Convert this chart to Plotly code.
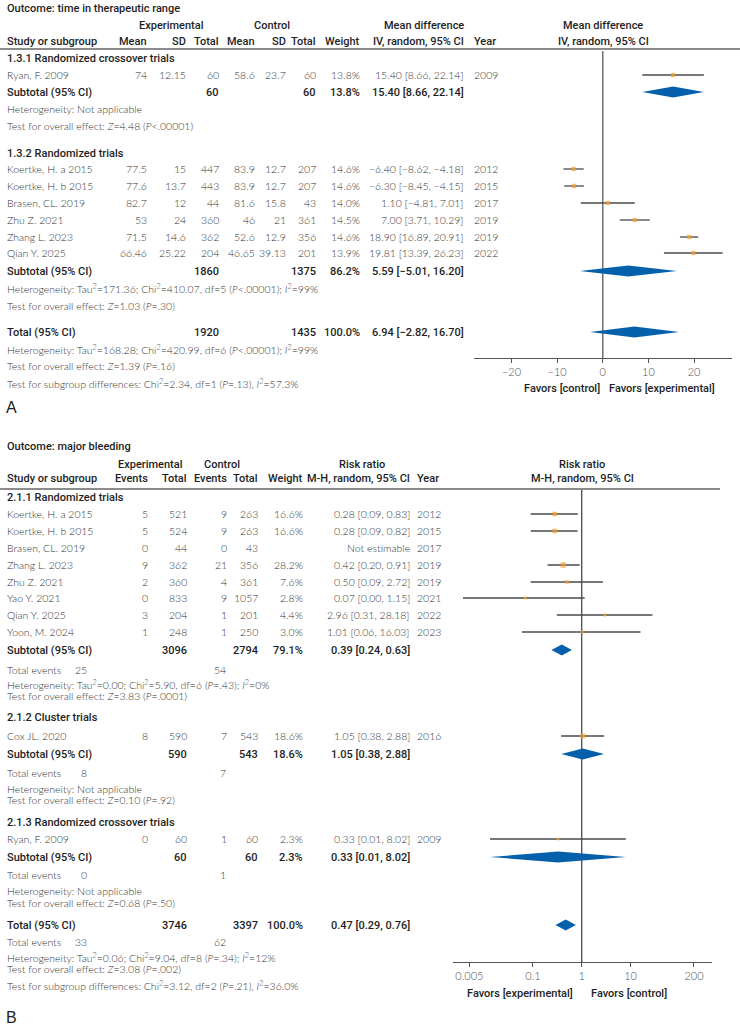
import plotly.graph_objects as go

W, H = 740, 1029

# ================= Panel A data: time in therapeutic range =================
A_study = ["Ryan, F. 2009", "Koertke, H. a 2015", "Koertke, H. b 2015", "Brasen, CL. 2019",
           "Zhu Z. 2021", "Zhang L. 2023", "Qian Y. 2025"]
A_exp_mean = [74, 77.5, 77.6, 82.7, 53, 71.5, 66.46]
A_exp_sd = [12.15, 15, 13.7, 12, 24, 14.6, 25.22]
A_exp_n = [60, 447, 443, 44, 360, 362, 204]
A_ctl_mean = [58.6, 83.9, 83.9, 81.6, 46, 52.6, 46.65]
A_ctl_sd = [23.7, 12.7, 12.7, 15.8, 21, 12.9, 39.13]
A_ctl_n = [60, 207, 207, 43, 361, 356, 201]
A_weight = [13.8, 14.6, 14.6, 14.0, 14.5, 14.6, 13.9]
A_md = [15.40, -6.40, -6.30, 1.10, 7.00, 18.90, 19.81]
A_lo = [8.66, -8.62, -8.45, -4.81, 3.71, 16.89, 13.39]
A_hi = [22.14, -4.18, -4.15, 7.01, 10.29, 20.91, 26.23]
A_year = [2009, 2012, 2015, 2017, 2019, 2019, 2022]

A_sub_name = ["1.3.1 Randomized crossover trials", "1.3.2 Randomized trials"]
A_sub_exp_n = [60, 1860]
A_sub_ctl_n = [60, 1375]
A_sub_weight = [13.8, 86.2]
A_sub_md = [15.40, 5.59]
A_sub_lo = [8.66, -5.01]
A_sub_hi = [22.14, 16.20]
A_sub_het = ["Heterogeneity: Not applicable",
             "Heterogeneity: Tau<sup>2</sup>=171.36; Chi<sup>2</sup>=410.07, df=5 (<i>P</i>&lt;.00001); <i>I</i><sup>2</sup>=99%"]
A_sub_test = ["Test for overall effect: <i>Z</i>=4.48 (<i>P</i>&lt;.00001)",
              "Test for overall effect: <i>Z</i>=1.03 (<i>P</i>=.30)"]

A_tot_exp_n = 1920
A_tot_ctl_n = 1435
A_tot_weight = 100.0
A_tot_md, A_tot_lo, A_tot_hi = 6.94, -2.82, 16.70
A_tot_het = "Heterogeneity: Tau<sup>2</sup>=168.28; Chi<sup>2</sup>=420.99, df=6 (<i>P</i>&lt;.00001); <i>I</i><sup>2</sup>=99%"
A_tot_test = "Test for overall effect: <i>Z</i>=1.39 (<i>P</i>=.16)"
A_subgroup_test = "Test for subgroup differences: Chi<sup>2</sup>=2.34, df=1 (<i>P</i>=.13), <i>I</i><sup>2</sup>=57.3%"
A_ticks = [-20, -10, 0, 10, 20]

# ================= Panel B data: major bleeding =================
B_study = ["Koertke, H. a 2015", "Koertke, H. b 2015", "Brasen, CL. 2019", "Zhang L. 2023",
           "Zhu Z. 2021", "Yao Y. 2021", "Qian Y. 2025", "Yoon, M. 2024", "Cox JL. 2020",
           "Ryan, F. 2009"]
B_exp_ev = [5, 5, 0, 9, 2, 0, 3, 1, 8, 0]
B_exp_n = [521, 524, 44, 362, 360, 833, 204, 248, 590, 60]
B_ctl_ev = [9, 9, 0, 21, 4, 9, 1, 1, 7, 1]
B_ctl_n = [263, 263, 43, 356, 361, 1057, 201, 250, 543, 60]
B_weight = [16.6, 16.6, None, 28.2, 7.6, 2.8, 4.4, 3.0, 18.6, 2.3]
B_rr = [0.28, 0.28, None, 0.42, 0.50, 0.07, 2.96, 1.01, 1.05, 0.33]
B_lo = [0.09, 0.09, None, 0.20, 0.09, 0.0037, 0.31, 0.06, 0.38, 0.0132]
B_hi = [0.83, 0.82, None, 0.91, 2.72, 1.15, 28.18, 16.03, 2.88, 8.02]
B_year = [2012, 2015, 2017, 2019, 2019, 2021, 2022, 2023, 2016, 2009]

B_sub_name = ["2.1.1 Randomized trials", "2.1.2 Cluster trials", "2.1.3 Randomized crossover trials"]
B_sub_exp_n = [3096, 590, 60]
B_sub_ctl_n = [2794, 543, 60]
B_sub_weight = [79.1, 18.6, 2.3]
B_sub_rr = [0.39, 1.05, 0.33]
B_sub_lo = [0.24, 0.38, 0.0132]
B_sub_hi = [0.63, 2.88, 8.02]
B_sub_exp_ev = [25, 8, 0]
B_sub_ctl_ev = [54, 7, 1]
B_sub_het = ["Heterogeneity: Tau<sup>2</sup>=0.00; Chi<sup>2</sup>=5.90, df=6 (<i>P</i>=.43); <i>I</i><sup>2</sup>=0%",
             "Heterogeneity: Not applicable", "Heterogeneity: Not applicable"]
B_sub_test = ["Test for overall effect: <i>Z</i>=3.83 (<i>P</i>=.0001)",
              "Test for overall effect: <i>Z</i>=0.10 (<i>P</i>=.92)",
              "Test for overall effect: <i>Z</i>=0.68 (<i>P</i>=.50)"]

B_tot_exp_n = 3746
B_tot_ctl_n = 3397
B_tot_weight = 100.0
B_tot_rr, B_tot_lo, B_tot_hi = 0.47, 0.29, 0.76
B_tot_exp_ev = 33
B_tot_ctl_ev = 62
B_tot_het = "Heterogeneity: Tau<sup>2</sup>=0.06; Chi<sup>2</sup>=9.04, df=8 (<i>P</i>=.34); <i>I</i><sup>2</sup>=12%"
B_tot_test = "Test for overall effect: <i>Z</i>=3.08 (<i>P</i>=.002)"
B_subgroup_test = "Test for subgroup differences: Chi<sup>2</sup>=3.12, df=2 (<i>P</i>=.21), <i>I</i><sup>2</sup>=36.0%"
B_ticks = [0.005, 0.1, 1, 10, 200]
B_ticktext = ["0.005", "0.1", "1", "10", "200"]

# ================= styles / layout (pixels) =================
ORANGE = "#F5A331"
BLUE = "#0560AC"
LINEC = "#4a4a4a"
LIGHT = dict(family="Lato, sans-serif", size=10.5, color="#333333", weight=300)
BOLD = dict(family="Roboto, sans-serif", size=11, color="#1e1e1e", weight=500)
TICKF = dict(family="Lato, sans-serif", size=11, color="#555555", weight=300)

SPLIT = 425  # pixel row that separates the two panels

ann = []


def txt(x, y, s, anchor="left", st=LIGHT):
    ann.append(dict(x=x / W, y=1 - y / H, xref="paper", yref="paper", text=s,
                    showarrow=False, xanchor=anchor, yanchor="middle", font=st,
                    borderpad=0, borderwidth=0))


def num(v):
    return str(v).replace("-", "\u2212")


def ci(m, lo, hi):
    return f"{m:.2f} [{lo:.2f}, {hi:.2f}]".replace("-", "\u2212")


def msize(w):
    return 1.6 + 0.72 * w ** 0.5


fig = go.Figure()
shapes = []

# ---------------- Panel A ----------------
A_group_y = [58, 153]
A_study_y = [75, 169, 186, 203, 220, 237, 253]
A_sub_y = [92, 271]
A_het_y = [109, 288]
A_test_y = [126, 306]
A_tot_y = 332
A_axis_y = 358
Acol = dict(em=147, esd=186, en=219, cm=255, csd=286, cn=316, w=360, ci=464, yr=474)

txt(7, 8, "Outcome: time in therapeutic range", st=BOLD)
txt(171, 25, "Experimental", "center", BOLD)
txt(272, 25, "Control", "center", BOLD)
txt(Acol["ci"], 25, "Mean difference", "right", BOLD)
txt(603, 25, "Mean difference", "center", BOLD)
txt(7, 41, "Study or subgroup", st=BOLD)
for k, lab in [("em", "Mean"), ("esd", "SD"), ("en", "Total"), ("cm", "Mean"),
               ("csd", "SD"), ("cn", "Total"), ("w", "Weight")]:
    txt(Acol[k], 41, lab, "right", BOLD)
txt(Acol["ci"], 41, "IV, random, 95% CI", "right", BOLD)
txt(Acol["yr"], 41, "Year", "left", BOLD)
txt(603, 41, "IV, random, 95% CI", "center", BOLD)
shapes.append(dict(type="line", xref="paper", yref="paper", x0=0, x1=1,
                   y0=1 - 49 / H, y1=1 - 49 / H, line=dict(color="#666", width=1.5)))

for g in range(2):
    txt(7, A_group_y[g], A_sub_name[g], st=BOLD)
for i in range(len(A_study)):
    y = A_study_y[i]
    txt(7, y, A_study[i])
    txt(Acol["em"], y, num(A_exp_mean[i]), "right")
    txt(Acol["esd"], y, num(A_exp_sd[i]), "right")
    txt(Acol["en"], y, num(A_exp_n[i]), "right")
    txt(Acol["cm"], y, num(A_ctl_mean[i]), "right")
    txt(Acol["csd"], y, num(A_ctl_sd[i]), "right")
    txt(Acol["cn"], y, num(A_ctl_n[i]), "right")
    txt(Acol["w"], y, f"{A_weight[i]:.1f}%", "right")
    txt(Acol["ci"], y, ci(A_md[i], A_lo[i], A_hi[i]), "right")
    txt(Acol["yr"], y, str(A_year[i]))
for g in range(2):
    y = A_sub_y[g]
    txt(7, y, "Subtotal (95% CI)", st=BOLD)
    txt(Acol["en"], y, num(A_sub_exp_n[g]), "right", BOLD)
    txt(Acol["cn"], y, num(A_sub_ctl_n[g]), "right", BOLD)
    txt(Acol["w"], y, f"{A_sub_weight[g]:.1f}%", "right", BOLD)
    txt(Acol["ci"], y, ci(A_sub_md[g], A_sub_lo[g], A_sub_hi[g]), "right", BOLD)
    txt(7, A_het_y[g], A_sub_het[g])
    txt(7, A_test_y[g], A_sub_test[g])
txt(7, A_tot_y, "Total (95% CI)", st=BOLD)
txt(Acol["en"], A_tot_y, num(A_tot_exp_n), "right", BOLD)
txt(Acol["cn"], A_tot_y, num(A_tot_ctl_n), "right", BOLD)
txt(Acol["w"], A_tot_y, f"{A_tot_weight:.1f}%", "right", BOLD)
txt(Acol["ci"], A_tot_y, ci(A_tot_md, A_tot_lo, A_tot_hi), "right", BOLD)
txt(7, 349, A_tot_het)
txt(7, 366, A_tot_test)
txt(7, 383, A_subgroup_test)
txt(600, 388, "Favors [control]", "right", BOLD)
txt(609, 388, "Favors [experimental]", "left", BOLD)
txt(6, 407, "A", st=dict(family="Liberation Sans, sans-serif", size=16, color="#222"))

fig.add_trace(go.Scatter(
    x=A_md, y=A_study_y, mode="markers", xaxis="x", yaxis="y",
    marker=dict(symbol="square", size=[msize(w) for w in A_weight], color=ORANGE,
                line=dict(width=0)),
    error_x=dict(type="data", symmetric=False,
                 array=[h - m for h, m in zip(A_hi, A_md)],
                 arrayminus=[m - l for m, l in zip(A_md, A_lo)],
                 width=0, thickness=1.3, color=LINEC),
    hoverinfo="skip", showlegend=False))

HALF = 5.5
for m, lo, hi, y in list(zip(A_sub_md, A_sub_lo, A_sub_hi, A_sub_y)) + [(A_tot_md, A_tot_lo, A_tot_hi, A_tot_y)]:
    fig.add_trace(go.Scatter(x=[lo, m, hi, m, lo], y=[y, y - HALF, y, y + HALF, y],
                             mode="lines", fill="toself", fillcolor=BLUE,
                             line=dict(width=0, color=BLUE), xaxis="x", yaxis="y",
                             hoverinfo="skip", showlegend=False))
shapes.append(dict(type="line", xref="x", yref="y", x0=0, x1=0, y0=51, y1=A_axis_y,
                   line=dict(color="#707070", width=1.5), layer="below"))

# ---------------- Panel B ----------------
B_group_y = [497, 717, 822]
B_study_y = [514, 531, 548, 565, 582, 598, 615, 632, 736, 839]
B_sub_y = [650, 754, 857]
B_ev_y = [670, 773, 875]
B_het_y = [684, 789, 891]
B_test_y = [696, 800, 903]
B_tot_y = 925
B_axis_y = 962
Bcol = dict(ee=148, en=187, ce=227, cn=258, w=303, ci=410, yr=417, tee=87, tce=226)

txt(7, 446, "Outcome: major bleeding", st=BOLD)
txt(150, 464, "Experimental", "center", BOLD)
txt(222, 464, "Control", "center", BOLD)
txt(362, 464, "Risk ratio", "center", BOLD)
txt(582, 464, "Risk ratio", "center", BOLD)
txt(7, 478, "Study or subgroup", st=BOLD)
for k, lab in [("ee", "Events"), ("en", "Total"), ("ce", "Events"), ("cn", "Total"), ("w", "Weight")]:
    txt(Bcol[k], 478, lab, "right", BOLD)
txt(Bcol["ci"], 478, "M-H, random, 95% CI", "right", BOLD)
txt(Bcol["yr"], 478, "Year", "left", BOLD)
txt(582, 478, "M-H, random, 95% CI", "center", BOLD)
shapes.append(dict(type="line", xref="paper", yref="paper", x0=0, x1=720 / W,
                   y0=1 - 489 / H, y1=1 - 489 / H, line=dict(color="#666", width=1.5)))

for g in range(3):
    txt(7, B_group_y[g], B_sub_name[g], st=BOLD)
for i in range(len(B_study)):
    y = B_study_y[i]
    txt(7, y, B_study[i])
    txt(Bcol["ee"], y, num(B_exp_ev[i]), "right")
    txt(Bcol["en"], y, num(B_exp_n[i]), "right")
    txt(Bcol["ce"], y, num(B_ctl_ev[i]), "right")
    txt(Bcol["cn"], y, num(B_ctl_n[i]), "right")
    if B_rr[i] is None:
        txt(Bcol["ci"], y, "Not estimable", "right")
    else:
        txt(Bcol["w"], y, f"{B_weight[i]:.1f}%", "right")
        txt(Bcol["ci"], y, ci(B_rr[i], B_lo[i], B_hi[i]), "right")
    txt(Bcol["yr"], y, str(B_year[i]))
for g in range(3):
    y = B_sub_y[g]
    txt(7, y, "Subtotal (95% CI)", st=BOLD)
    txt(Bcol["en"], y, num(B_sub_exp_n[g]), "right", BOLD)
    txt(Bcol["cn"], y, num(B_sub_ctl_n[g]), "right", BOLD)
    txt(Bcol["w"], y, f"{B_sub_weight[g]:.1f}%", "right", BOLD)
    txt(Bcol["ci"], y, ci(B_sub_rr[g], B_sub_lo[g], B_sub_hi[g]), "right", BOLD)
    txt(7, B_ev_y[g], "Total events")
    txt(Bcol["tee"], B_ev_y[g], num(B_sub_exp_ev[g]), "right")
    txt(Bcol["tce"], B_ev_y[g], num(B_sub_ctl_ev[g]), "right")
    txt(7, B_het_y[g], B_sub_het[g])
    txt(7, B_test_y[g], B_sub_test[g])
txt(7, B_tot_y, "Total (95% CI)", st=BOLD)
txt(Bcol["en"], B_tot_y, num(B_tot_exp_n), "right", BOLD)
txt(Bcol["cn"], B_tot_y, num(B_tot_ctl_n), "right", BOLD)
txt(Bcol["w"], B_tot_y, f"{B_tot_weight:.1f}%", "right", BOLD)
txt(Bcol["ci"], B_tot_y, ci(B_tot_rr, B_tot_lo, B_tot_hi), "right", BOLD)
txt(7, 942, "Total events")
txt(Bcol["tee"], 942, num(B_tot_exp_ev), "right")
txt(Bcol["tce"], 942, num(B_tot_ctl_ev), "right")
txt(7, 957, B_tot_het)
txt(7, 969, B_tot_test)
txt(7, 985, B_subgroup_test)
txt(573, 993, "Favors [experimental]", "right", BOLD)
txt(591, 993, "Favors [control]", "left", BOLD)
txt(6, 1017, "B", st=dict(family="Liberation Sans, sans-serif", size=16, color="#222"))

bi = [i for i in range(len(B_study)) if B_rr[i] is not None]
fig.add_trace(go.Scatter(
    x=[B_rr[i] for i in bi], y=[B_study_y[i] for i in bi], mode="markers",
    xaxis="x2", yaxis="y2",
    marker=dict(symbol="square", size=[msize(B_weight[i]) for i in bi], color=ORANGE,
                line=dict(width=0)),
    error_x=dict(type="data", symmetric=False,
                 array=[B_hi[i] - B_rr[i] for i in bi],
                 arrayminus=[B_rr[i] - B_lo[i] for i in bi],
                 width=0, thickness=1.3, color=LINEC),
    hoverinfo="skip", showlegend=False))

for m, lo, hi, y in list(zip(B_sub_rr, B_sub_lo, B_sub_hi, B_sub_y)) + [(B_tot_rr, B_tot_lo, B_tot_hi, B_tot_y)]:
    fig.add_trace(go.Scatter(x=[lo, m, hi, m, lo], y=[y, y - HALF, y, y + HALF, y],
                             mode="lines", fill="toself", fillcolor=BLUE,
                             line=dict(width=0, color=BLUE), xaxis="x2", yaxis="y2",
                             hoverinfo="skip", showlegend=False))
shapes.append(dict(type="line", xref="x2", yref="y2", x0=1, x1=1, y0=490, y1=B_axis_y,
                   line=dict(color="#555", width=1.4), layer="below"))

axis_common = dict(showline=True, linecolor="#555", linewidth=1.3, ticks="outside",
                   ticklen=4, tickcolor="#555", tickwidth=1, tickfont=TICKF,
                   showgrid=False, zeroline=False, fixedrange=True, anchor="free",
                   side="bottom")

fig.update_layout(
    width=W, height=H, autosize=False,
    margin=dict(l=0, r=0, t=0, b=0),
    paper_bgcolor="white", plot_bgcolor="rgba(0,0,0,0)",
    xaxis=dict(domain=[474 / W, 732 / W], range=[-28.2, 28.3], position=1 - A_axis_y / H,
               tickvals=A_ticks, ticktext=[num(t) for t in A_ticks], **axis_common),
    yaxis=dict(domain=[1 - SPLIT / H, 1], range=[SPLIT, 0], visible=False,
               fixedrange=True),
    xaxis2=dict(type="log", domain=[453 / W, 712 / W], range=[-2.637, 2.67],
                position=1 - B_axis_y / H, tickvals=B_ticks, ticktext=B_ticktext,
                **axis_common),
    yaxis2=dict(domain=[0, 1 - SPLIT / H], range=[H, SPLIT], visible=False,
                fixedrange=True, anchor="x2"),
    annotations=ann, shapes=shapes, showlegend=False,
)

fig.write_html("out.html")
